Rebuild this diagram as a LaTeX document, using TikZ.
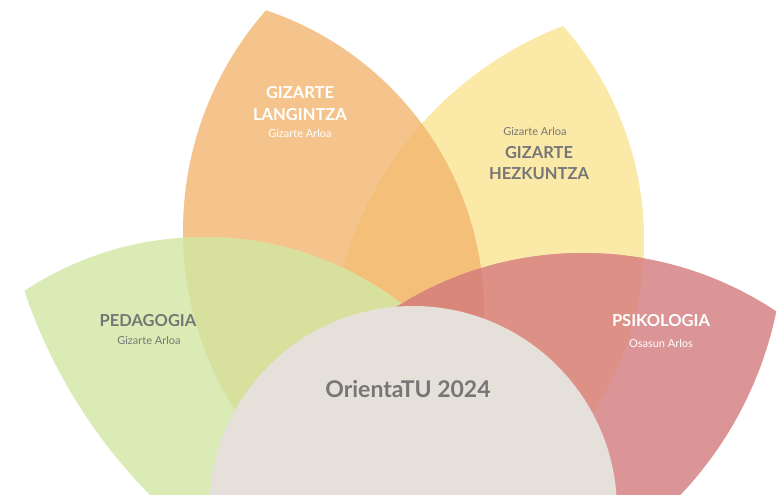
\documentclass[tikz,border=0pt]{standalone}
\usepackage{fontspec}
\setmainfont{Lato}
\definecolor{cYellow}{HTML}{FBE9A7}
\definecolor{cOrange}{HTML}{F5C48C}
\definecolor{cOY}{HTML}{F4BF78}
\definecolor{cGreen}{HTML}{DAEBB6}
\definecolor{cGO}{HTML}{D8E09D}
\definecolor{cRed}{HTML}{DC9597}
\definecolor{cRY}{HTML}{DD9086}
\definecolor{cRO}{HTML}{D9877A}
\definecolor{cBeige}{HTML}{E6E0DA}
\definecolor{cText}{HTML}{767676}
\tikzset{
  pO1/.style={insert path={(165,313) circle[radius=319pt]}},
  pO2/.style={insert path={(518,231) circle[radius=335pt]}},
  pY1/.style={insert path={(321,240) circle[radius=323pt]}},
  pY2/.style={insert path={(693,365) circle[radius=363pt]}},
  pG1/.style={insert path={(204,563) circle[radius=326pt]}},
  pG2/.style={insert path={(528,122) circle[radius=531pt]}},
  pR1/.style={insert path={(583,602) circle[radius=349pt]}},
  pR2/.style={insert path={(406,235) circle[radius=378pt]}},
  title/.style={anchor=base, inner sep=0pt, font=\fontsize{16.5}{18}\selectfont\bfseries},
  sub/.style={anchor=base, inner sep=0pt, font=\fontsize{11}{13}\selectfont},
  big/.style={anchor=base, inner sep=0pt, font=\fontsize{23}{26}\selectfont\bfseries},
}
\begin{document}
\begin{tikzpicture}[x=1pt,y=-1pt]
\useasboundingbox (0,0) rectangle (776,495);
\fill[white] (0,0) rectangle (776,495);
\begin{scope}
  \clip (0,0) rectangle (776,495);
  % yellow petal
  \begin{scope}\clip[pY1]; \fill[cYellow,pY2]; \end{scope}
  % orange petal
  \begin{scope}\clip[pO1]; \fill[cOrange,pO2]; \end{scope}
  % orange over yellow
  \begin{scope}\clip[pO1]; \clip[pO2]; \clip[pY1]; \fill[cOY,pY2]; \end{scope}
  % green petal
  \begin{scope}\clip[pG1]; \fill[cGreen,pG2]; \end{scope}
  % green over orange / yellow
  \begin{scope}\clip[pG1]; \clip[pG2];
    \begin{scope}\clip[pO1]; \fill[cGO,pO2]; \end{scope}
    \begin{scope}\clip[pY1]; \fill[cGO,pY2]; \end{scope}
  \end{scope}
  % red petal
  \begin{scope}\clip[pR1]; \fill[cRed,pR2]; \end{scope}
  \begin{scope}\clip[pR1]; \clip[pR2]; \clip[pY1]; \fill[cRY,pY2]; \end{scope}
  \begin{scope}\clip[pR1]; \clip[pR2]; \clip[pO1]; \fill[cRO,pO2]; \end{scope}
  % centre disc
  \fill[cBeige] (413,510) circle[radius=204pt];
\end{scope}
% texts
\node[title, text=white] (gl1) at (300,98) {GIZARTE};
\node[title, text=white] (gl2) at (300,120) {LANGINTZA};
\node[sub, text=white] (gl3) at (300,137) {Gizarte Arloa};
\node[sub, text=cText] (gh0) at (535,135) {Gizarte Arloa};
\node[title, text=cText] (gh1) at (539,158) {GIZARTE};
\node[title, text=cText] (gh2) at (539,179) {HEZKUNTZA};
\node[title, text=cText] (pe1) at (148,326) {PEDAGOGIA};
\node[sub, text=cText] (pe2) at (149,344) {Gizarte Arloa};
\node[title, text=white] (ps1) at (661,326) {PSIKOLOGIA};
\node[sub, text=white] (ps2) at (661,347) {Osasun Arlos};
\node[big, text=cText] (ot) at (408,397) {OrientaTU 2024};
\end{tikzpicture}
\end{document}
